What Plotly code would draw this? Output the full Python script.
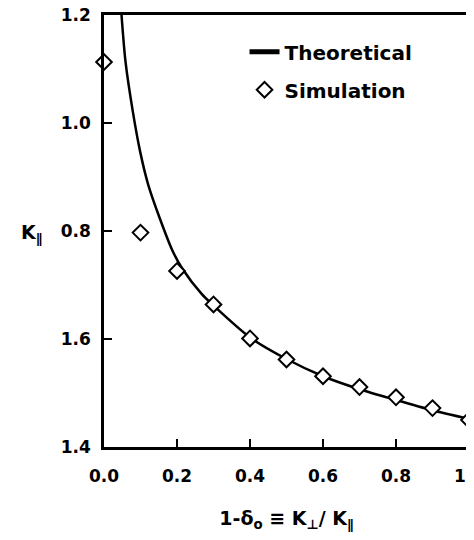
import plotly.graph_objects as go

# Theoretical curve
theory_x = [0.048, 0.059, 0.079, 0.099, 0.121, 0.152, 0.188, 0.213, 0.268, 0.30, 0.40, 0.50, 0.60, 0.70, 0.80, 0.90, 1.00]
theory_y = [1.200, 1.113, 1.021, 0.947, 0.886, 0.825, 0.763, 0.732, 0.683, 0.662, 0.603, 0.563, 0.531, 0.507, 0.487, 0.468, 0.452]

# Simulation points
sim_x = [0.0, 0.1, 0.2, 0.3, 0.4, 0.5, 0.6, 0.7, 0.8, 0.9, 1.0]
sim_y = [1.113, 0.797, 0.726, 0.664, 0.601, 0.562, 0.531, 0.511, 0.492, 0.472, 0.450]

x_tickvals = [0.0, 0.2, 0.4, 0.6, 0.8, 1.0]
x_ticktext = ["0.0", "0.2", "0.4", "0.6", "0.8", "1.0"]
y_tickvals = [0.4, 0.6, 0.8, 1.0, 1.2]
y_ticktext = ["1.4", "1.6", "0.8", "1.0", "1.2"]

FONT = "DejaVu Sans"

fig = go.Figure()
fig.add_trace(go.Scatter(x=theory_x, y=theory_y, mode="lines", name="Theoretical",
                         legendgroup="a",
                         line=dict(color="black", width=2.5, shape="spline", smoothing=0.8)))
fig.add_trace(go.Scatter(x=sim_x, y=sim_y, mode="markers", name="Simulation",
                         legendgroup="b",
                         marker=dict(symbol="diamond", size=12, color="white",
                                     line=dict(color="black", width=2)),
                         cliponaxis=False))

fig.update_layout(
    width=466, height=524,
    margin=dict(l=96, r=5, t=7, b=85, autoexpand=False),
    paper_bgcolor="white", plot_bgcolor="white",
    font=dict(family=FONT, size=16, color="black", weight="bold"),
    showlegend=True,
    legend=dict(x=0.385, y=0.96, xanchor="left", yanchor="top",
                bgcolor="rgba(0,0,0,0)",
                font=dict(family=FONT, size=20, color="black", weight="bold"),
                itemwidth=30, tracegroupgap=9, itemsizing="constant"),
    xaxis=dict(range=[0, 1.0], showgrid=False, zeroline=False, automargin=False,
               showline=True, linecolor="black", linewidth=2.5, mirror=True,
               ticks="inside", ticklen=8, tickwidth=2, tickcolor="black",
               tickvals=x_tickvals, ticktext=x_ticktext,
               ticklabeloverflow="allow", ticklabelstandoff=12,
               tickfont=dict(family=FONT, size=17, color="black", weight="bold"),
               title=dict(text="1-δ<sub>o</sub> ≡ K<sub>⊥</sub>/ K<sub>∥</sub>",
                          font=dict(family=FONT, size=19, color="black", weight="bold"),
                          standoff=28)),
    yaxis=dict(range=[0.4, 1.2], showgrid=False, zeroline=False, automargin=False,
               showline=True, linecolor="black", linewidth=2.5, mirror=True,
               ticks="inside", ticklen=8, tickwidth=2, tickcolor="black",
               tickvals=y_tickvals, ticktext=y_ticktext,
               ticklabeloverflow="allow", ticklabelstandoff=7,
               tickfont=dict(family=FONT, size=17, color="black", weight="bold")),
    annotations=[dict(text="K<sub>∥</sub>", xref="paper", yref="y", x=-0.165, y=0.795,
                      xanchor="right", yanchor="middle", showarrow=False,
                      font=dict(family=FONT, size=19, color="black", weight="bold"))],
)

fig.write_html("out.html")
